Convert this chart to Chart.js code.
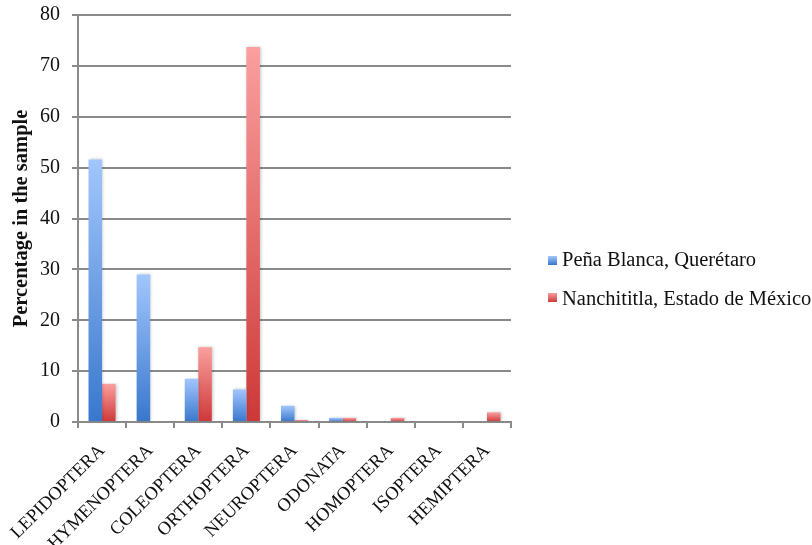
<!DOCTYPE html>
<html>
<head>
<meta charset="utf-8">
<script src="https://cdn.jsdelivr.net/npm/chart.js@4/dist/chart.umd.min.js"></script>
<style>
  html, body { margin: 0; padding: 0; background: #ffffff; }
  #wrap { width: 812px; height: 545px; position: relative; }
</style>
</head>
<body>
<div id="wrap"><canvas id="c" width="812" height="545"></canvas></div>
<script>
// Insect orders and share of each in the two samples (%)
const orders = ['LEPIDOPTERA', 'HYMENOPTERA', 'COLEOPTERA', 'ORTHOPTERA', 'NEUROPTERA',
                'ODONATA', 'HOMOPTERA', 'ISOPTERA', 'HEMIPTERA'];
const penaBlanca  = [51.6, 29.0, 8.5, 6.4, 3.2, 0.8, 0, 0, 0];
const nanchititla = [7.5, 0, 14.7, 73.7, 0.4, 0.8, 0.8, 0, 1.9];
const seriesNames = ['Peña Blanca, Querétaro', 'Nanchititla, Estado de México'];

const SERIF = "'Liberation Serif', 'DejaVu Serif', serif";
const BLUE = ['#a2c6fd', '#3977cc'];
const RED  = ['#fb9f9f', '#cd3838'];

// vertical gradient spanning each bar from its top to the baseline
function barFill(stops) {
  return function (ctx) {
    const chart = ctx.chart;
    if (!chart.chartArea || ctx.type !== 'data') return stops[1];
    const ys = chart.scales.y;
    const top = ys.getPixelForValue(ctx.raw);
    const base = ys.getPixelForValue(0);
    if (!isFinite(top) || base - top < 1) return stops[1];
    const g = chart.ctx.createLinearGradient(0, top, 0, base);
    g.addColorStop(0, stops[0]);
    g.addColorStop(1, stops[1]);
    return g;
  };
}

// soft shadow around the bars
const barShadow = {
  id: 'barShadow',
  beforeDatasetsDraw(chart) {
    const c = chart.ctx;
    c.save();
    c.shadowColor = 'rgba(0,0,0,0.22)';
    c.shadowBlur = 3;
    c.shadowOffsetX = 1;
    c.shadowOffsetY = 0;
  },
  afterDatasetsDraw(chart) { chart.ctx.restore(); }
};

// legend drawn to the right of the plot
const sideLegend = {
  id: 'sideLegend',
  afterDraw(chart) {
    const c = chart.ctx;
    const x = 548;
    const boxTops = [256, 293];
    const baselines = [266, 305];
    const palettes = [BLUE, RED];
    c.save();
    chart.data.datasets.forEach((ds, i) => {
      const y = boxTops[i];
      const g = c.createLinearGradient(0, y, 0, y + 9);
      g.addColorStop(0, palettes[i][0]);
      g.addColorStop(1, palettes[i][1]);
      c.fillStyle = g;
      c.fillRect(x, y, 9, 9);
      c.fillStyle = '#111111';
      c.font = "20.5px " + SERIF;
      c.textBaseline = 'alphabetic';
      c.textAlign = 'left';
      c.fillText(ds.label, 562, baselines[i]);
    });
    c.restore();
  }
};

new Chart(document.getElementById('c'), {
  type: 'bar',
  data: {
    labels: orders,
    datasets: [
      { label: seriesNames[0], data: penaBlanca, backgroundColor: barFill(BLUE), borderWidth: 0 },
      { label: seriesNames[1], data: nanchititla, backgroundColor: barFill(RED), borderWidth: 0 }
    ]
  },
  options: {
    responsive: false,
    animation: false,
    devicePixelRatio: 1,
    layout: { padding: { top: 15, right: 301, bottom: 0, left: 0 } },
    datasets: { bar: { categoryPercentage: 0.5625, barPercentage: 1.0 } },
    plugins: { legend: { display: false }, tooltip: { enabled: false } },
    scales: {
      x: {
        grid: { display: true, drawOnChartArea: false, drawTicks: true, tickLength: 6,
                color: '#8a8a8a', lineWidth: 2, offset: true },
        border: { display: true, color: '#8a8a8a', width: 2 },
        ticks: { minRotation: 45, maxRotation: 45, padding: 12, color: '#111111',
                 font: { family: SERIF, size: 18.5 } },
        afterFit(scale) {
          scale.height = 123;
          scale.paddingLeft = 0;
          scale.paddingRight = 0;
        }
      },
      y: {
        min: 0, max: 80,
        ticks: { stepSize: 10, padding: 12, color: '#111111', font: { family: SERIF, size: 20 } },
        grid: { color: '#8a8a8a', lineWidth: 2, tickLength: 6 },
        border: { display: true, color: '#8a8a8a', width: 2 },
        title: { display: true, text: 'Percentage in the sample', color: '#111111',
                 font: { family: SERIF, size: 20.5, weight: 'bold' }, padding: { top: 9, bottom: 0 } },
        afterFit(scale) {
          scale.width = 78;
          scale.paddingTop = 0;
          scale.paddingBottom = 0;
        }
      }
    }
  },
  plugins: [barShadow, sideLegend]
});
</script>
</body>
</html>
